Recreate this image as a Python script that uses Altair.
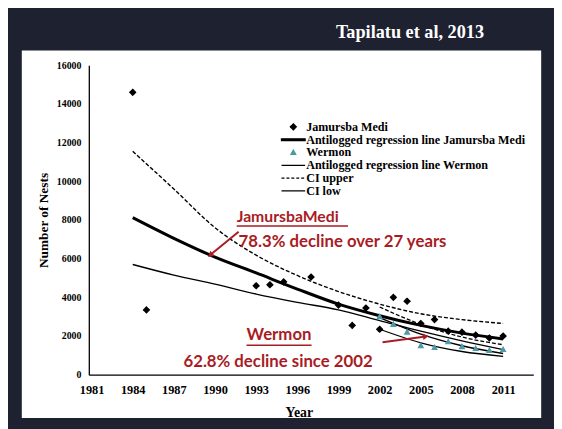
import altair as alt
import pandas as pd

# ---------------- data ----------------
jm_years = [1984, 1985, 1993, 1994, 1995, 1997, 1999, 2000, 2001, 2002, 2003, 2004, 2005, 2006, 2007, 2008, 2009, 2010, 2011]
jm_nests = [14600, 3350, 4600, 4650, 4800, 5050, 3600, 2550, 3450, 2350, 4000, 3800, 2650, 2850, 2250, 2200, 2050, 1900, 2000]

wm_years = [2002, 2003, 2004, 2005, 2006, 2007, 2008, 2009, 2010, 2011]
wm_nests = [3000, 2600, 2200, 1500, 1400, 1700, 1450, 1350, 1250, 1300]

fit_years = [1984, 1987, 1990, 1993, 1996, 1999, 2002, 2005, 2008, 2011]
jm_fit = [8120, 7050, 6080, 5260, 4430, 3650, 3050, 2550, 2150, 1850]
jm_ci_upper = [11550, 9600, 7600, 6180, 5130, 4300, 3650, 3150, 2850, 2650]
jm_ci_low = [5700, 5150, 4680, 4170, 3740, 3350, 2800, 2250, 1750, 1300]

wm_fit_years = [2002, 2005, 2008, 2011]
wm_fit = [2950, 2100, 1500, 1100]
wm_ci_upper = [3500, 2600, 1950, 1550]
wm_ci_low = [2350, 1650, 1200, 950]

x_ticks = [1981, 1984, 1987, 1990, 1993, 1996, 1999, 2002, 2005, 2008, 2011]
y_ticks = [0, 2000, 4000, 6000, 8000, 10000, 12000, 14000, 16000]

legend_labels = [
    "Jamursba Medi",
    "Antilogged regression line Jamursba Medi",
    "Wermon",
    "Antilogged regression line Wermon",
    "CI upper",
    "CI low",
]

# ---------------- styles ----------------
TEAL = "#4a9ba6"
RED = "#a81c24"
DARK = "#1d2130"
SERIF = "Liberation Serif"
SANS = "Lato"

W, H = 451, 314

X = alt.X(
    "year:Q",
    scale=alt.Scale(domain=[1980.8, 2013.2], nice=False, zero=False),
    axis=alt.Axis(
        values=x_ticks, format="d", title="Year", grid=False, ticks=False, tickSize=0,
        labelFont=SERIF, labelFontWeight="bold", labelFontSize=12.5, labelPadding=9,
        labelColor="black", domainColor="black", domainWidth=1.3,
        titleFont=SERIF, titleFontWeight="bold", titleFontSize=14, titleColor="black",
        titleX=213, titleY=31, zindex=2,
    ),
)
Y = alt.Y(
    "nests:Q",
    scale=alt.Scale(domain=[0, 16000], nice=False),
    axis=alt.Axis(
        values=y_ticks, format="d", title="Number of Nests", grid=False, ticks=False, tickSize=0,
        labelFont=SERIF, labelFontWeight="bold", labelFontSize=10, labelPadding=8,
        labelColor="black", domainColor="black", domainWidth=1.3,
        titleFont=SERIF, titleFontWeight="bold", titleFontSize=13.5, titleColor="black",
        titleX=-46, titleY=157, titleAlign="center", titleBaseline="middle", zindex=2,
    ),
)

one = pd.DataFrame({"a": [0]})

# white slide panel
panel = alt.Chart(one).mark_rect(color="white").encode(
    x=alt.value(-68), x2=alt.value(459), y=alt.value(-15), y2=alt.value(358)
)

# header text
header = alt.Chart(one).mark_text(
    text="Tapilatu et al, 2013", font=SERIF, fontWeight="bold", fontSize=18.5,
    color="white", align="right", baseline="middle",
).encode(x=alt.value(401), y=alt.value(-34))


def line_layer(years, vals, width, dash=None):
    df = pd.DataFrame({"year": years, "nests": vals})
    kw = dict(color="black", strokeWidth=width, interpolate="monotone")
    if dash is not None:
        kw["strokeDash"] = dash
    return alt.Chart(df).mark_line(**kw).encode(x=X, y=Y)


lines = [
    line_layer(fit_years, jm_ci_upper, 1.4, [4, 2]),
    line_layer(fit_years, jm_ci_low, 1.4),
    line_layer(fit_years, jm_fit, 3),
    line_layer(wm_fit_years, wm_ci_upper, 1.3, [4, 2]),
    line_layer(wm_fit_years, wm_ci_low, 1.3),
    line_layer(wm_fit_years, wm_fit, 1.5),
]

pts = pd.DataFrame({
    "year": jm_years + wm_years,
    "nests": jm_nests + wm_nests,
    "legend": ["Jamursba Medi"] * len(jm_years) + ["Wermon"] * len(wm_years),
})

# symbol unit = sqrt(size)/2 = 5.5 px
DIAMOND = "M0,-0.55L0.55,0L0,0.55L-0.55,0Z"
TRIANGLE = "M0,-0.44L0.44,0.35L-0.44,0.35Z"
THICK = "M-2.18,-0.16L2.18,-0.16L2.18,0.16L-2.18,0.16Z"
LINE = "M-2.18,0L2.18,0"

leg = alt.Legend(
    orient="none", legendX=201, legendY=56, title=None, padding=0,
    labelFont=SERIF, labelFontWeight="bold", labelFontSize=12.3, labelColor="black",
    labelOffset=6.5, labelLimit=400, symbolSize=121, rowPadding=0,
    symbolStrokeWidth=1.3,
)

points = alt.Chart(pts).mark_point(size=121, strokeWidth=1.2, opacity=1, filled=False).encode(
    x=X,
    y=Y,
    shape=alt.Shape("legend:N", scale=alt.Scale(domain=legend_labels,
                    range=[DIAMOND, THICK, TRIANGLE, LINE, LINE, LINE]), legend=leg),
    fill=alt.Fill("legend:N", scale=alt.Scale(domain=legend_labels,
                  range=["black", "black", TEAL, "transparent", "transparent", "transparent"]), legend=leg),
    stroke=alt.Stroke("legend:N", scale=alt.Scale(domain=legend_labels,
                      range=["black", "black", TEAL, "black", "black", "black"]), legend=leg),
    strokeDash=alt.StrokeDash("legend:N", scale=alt.Scale(domain=legend_labels,
                              range=[[1, 0], [1, 0], [1, 0], [1, 0], [3, 2], [1, 0]]), legend=leg),
)

# ---------------- annotations ----------------
def txt(t, x, y, size=17, align="left"):
    return alt.Chart(one).mark_text(
        text=t, font=SANS, fontWeight="bold", fontSize=size, color=RED,
        align=align, baseline="middle",
    ).encode(x=alt.value(x), y=alt.value(y))


def rule(x1, y1, x2, y2, w=1.5):
    return alt.Chart(one).mark_rule(color=RED, strokeWidth=w).encode(
        x=alt.value(x1), y=alt.value(y1), x2=alt.value(x2), y2=alt.value(y2)
    )


def head(x, y, ang):
    return alt.Chart(one).mark_point(
        shape="triangle", filled=True, color=RED, size=45, angle=ang, opacity=1
    ).encode(x=alt.value(x), y=alt.value(y))


annotations = [
    txt("JamursbaMedi", 150, 154, size=16),
    rule(150, 163, 263, 163),
    txt("78.3% decline over 27 years", 152, 179),
    rule(152, 169, 125, 191, 2),
    head(124, 192, 230),
    txt("Wermon", 193, 274, align="center"),
    rule(160, 284, 226, 284),
    txt("62.8% decline since 2002", 192, 301, align="center"),
    rule(298, 281, 340, 275.5, 2),
    head(341, 275.3, 82),
]

chart = alt.layer(panel, header, *lines, points, *annotations).properties(
    width=W, height=H,
    autosize=alt.AutoSizeParams(type="none"),
    padding={"left": 82, "top": 55, "right": 21, "bottom": 52},
    background=DARK,
).configure_view(stroke=None)

chart.save("out.html", embed_options={"renderer": "svg", "actions": False})
